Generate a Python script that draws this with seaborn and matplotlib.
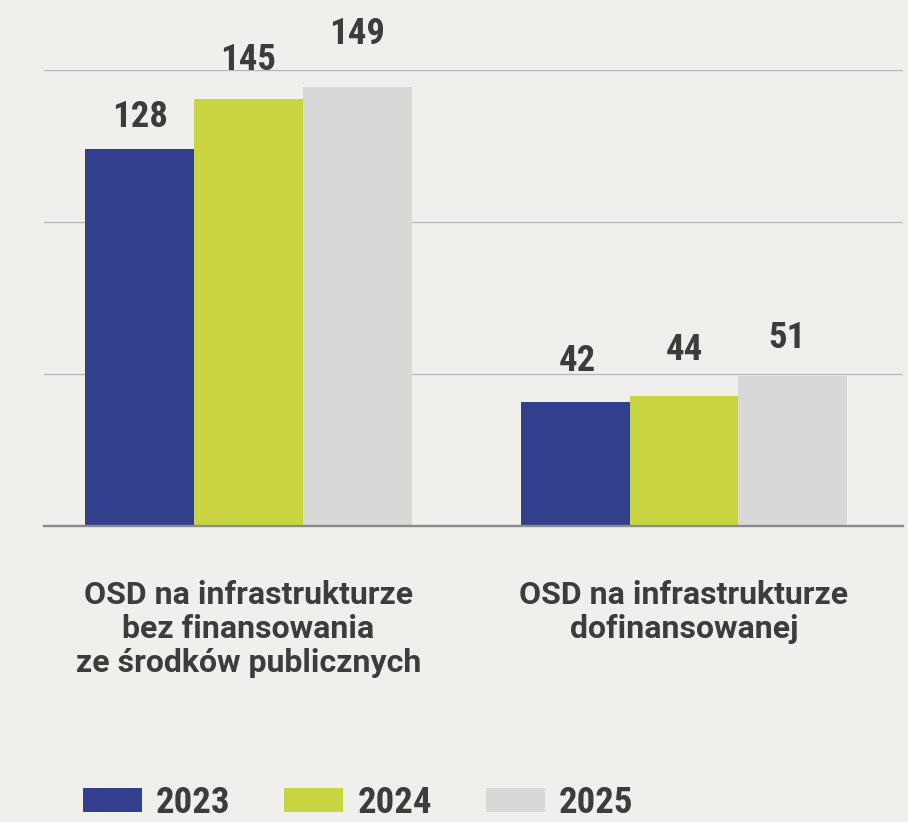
import matplotlib
matplotlib.use("Agg")
import matplotlib.pyplot as plt
import seaborn as sns
import pandas as pd
import numpy as np

# --- data -------------------------------------------------------------
categories = [
    "OSD na infrastrukturze\nbez finansowania\nze środków publicznych",
    "OSD na infrastrukturze\ndofinansowanej",
]
years = ["2023", "2024", "2025"]
values_2023 = [128, 42]
values_2024 = [145, 44]
values_2025 = [149, 51]

# --- style ------------------------------------------------------------
palette = {"2023": "#323f8c", "2024": "#c8d541", "2025": "#d8d8d8"}
text_color = "#3c3c3c"
bg = "#f0efec"
# distance (points) from each bar top to its value label baseline
label_lift = {"2023": [15.8, 22.3], "2024": [20.9, 25.9], "2025": [31.0, 20.2]}
label_shift = {"2023": [0, 1.8], "2024": [0, 0], "2025": [0, -4.0]}

df = pd.DataFrame({
    "category": categories * len(years),
    "year": [y for y in years for _ in categories],
    "value": values_2023 + values_2024 + values_2025,
})

sns.set_style("white")
plt.rcParams["font.family"] = ["Roboto Condensed", "DejaVu Sans"]
plt.rcParams["font.weight"] = "bold"

fig = plt.figure(figsize=(9.08, 8.22), dpi=100)
fig.patch.set_facecolor(bg)
ax = fig.add_axes([44 / 908, 296 / 822, 859 / 908, 456 / 822])
ax.set_facecolor("none")

sns.barplot(
    data=df, x="category", y="value", hue="year", hue_order=years,
    order=categories, palette=palette, width=0.75, saturation=1,
    edgecolor="none", linewidth=0, ax=ax,
)

ymax = 154.8
ax.set_ylim(0, ymax)
ax.set_xlim(-0.4696, 1.5029)
ax.set_yticks(np.linspace(0, ymax, 4))
ax.set_yticklabels([])
ax.yaxis.grid(True, color="#b4b4b4", linewidth=0.9)
ax.set_axisbelow(True)
ax.tick_params(axis="y", length=0)
for side in ("left", "right", "top"):
    ax.spines[side].set_visible(False)
ax.spines["bottom"].set_color("#8a8a8a")
ax.spines["bottom"].set_linewidth(1.7)
ax.set_xlabel("")
ax.set_ylabel("")

ax.set_xticks(range(len(categories)))
ax.set_xticklabels(categories, fontsize=23, color=text_color,
                   fontweight="bold", family=["Roboto", "DejaVu Sans"])
for lbl in ax.get_xticklabels():
    lbl.set_linespacing(1.17)
ax.tick_params(axis="x", length=0, pad=38.8)

# value labels above bars
for year, container in zip(years, ax.containers):
    for i, rect in enumerate(container):
        h = rect.get_height()
        ax.annotate(
            f"{h:.0f}",
            (rect.get_x() + rect.get_width() / 2, h),
            xytext=(label_shift[year][i], label_lift[year][i]),
            textcoords="offset points", ha="center", va="baseline",
            fontsize=26.5, fontweight="bold", color=text_color,
            annotation_clip=False,
        )

handles, labels = ax.get_legend_handles_labels()
if ax.get_legend() is not None:
    ax.get_legend().remove()
fig.legend(
    handles, labels, loc="center left",
    bbox_to_anchor=(83 / 908, 1 - 802.5 / 822), ncol=3, frameon=False,
    fontsize=26.5, labelcolor=text_color,
    handlelength=1.6, handleheight=0.625, handletextpad=0.38,
    columnspacing=1.47, borderpad=0, borderaxespad=0,
)

fig.savefig("out.png", dpi=100, facecolor=bg)
